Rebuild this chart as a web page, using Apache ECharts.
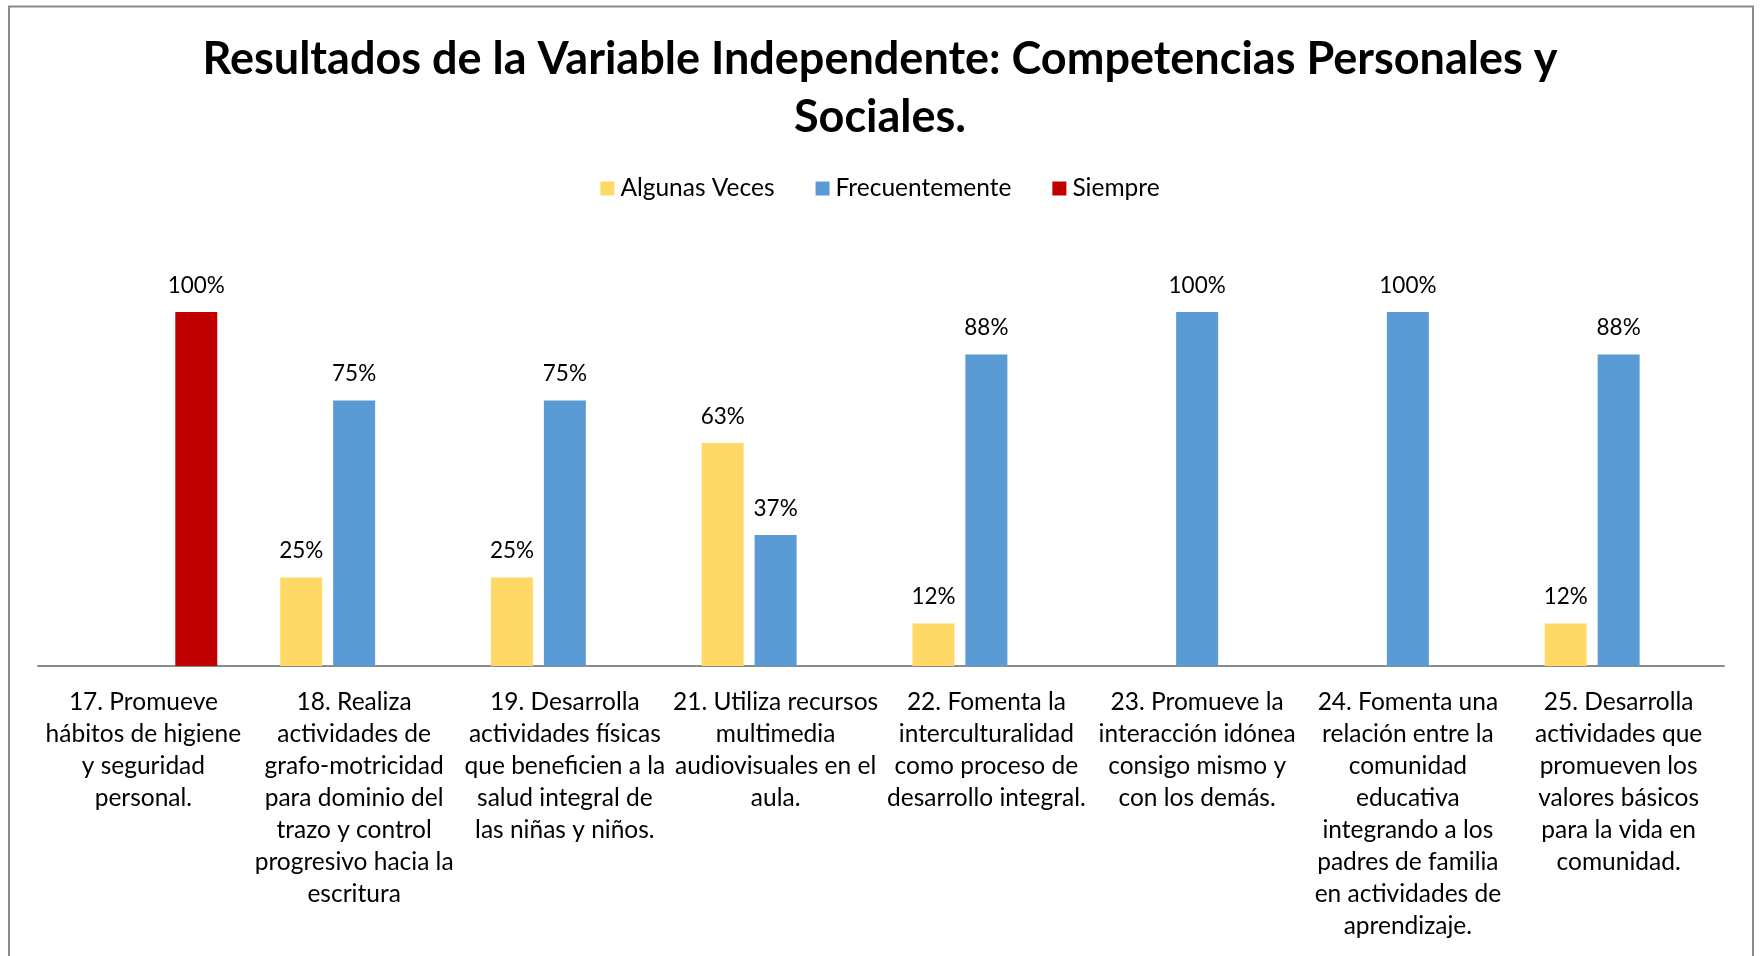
<!DOCTYPE html>
<html>
<head>
<meta charset="utf-8">
<script src="https://cdn.jsdelivr.net/npm/echarts@6/dist/echarts.min.js"></script>
<style>
  html, body { margin: 0; padding: 0; background: #fff; }
  #chart { width: 1760px; height: 956px; }
</style>
</head>
<body>
<div id="chart"></div>
<script>
const categories = [
    '17. Promueve\nhábitos de higiene\ny seguridad\npersonal.',
    '18. Realiza\nactividades de\ngrafo-motricidad\npara dominio del\ntrazo y control\nprogresivo hacia la\nescritura',
    '19. Desarrolla\nactividades físicas\nque beneficien a la\nsalud integral de\nlas niñas y niños.',
    '21. Utiliza recursos\nmultimedia\naudiovisuales en el\naula.',
    '22. Fomenta la\ninterculturalidad\ncomo proceso de\ndesarrollo integral.',
    '23. Promueve la\ninteracción idónea\nconsigo mismo y\ncon los demás.',
    '24. Fomenta una\nrelación entre la\ncomunidad\neducativa\nintegrando a los\npadres de familia\nen actividades de\naprendizaje.',
    '25. Desarrolla\nactividades que\npromueven los\nvalores básicos\npara la vida en\ncomunidad.'
];

// porcentajes, null = sin barra
const algunasVeces   = [null, 25, 25, 63, 12, null, null, 12];
const frecuentemente = [null, 75, 75, 37, 88, 100, 100, 88];
const siempre        = [100, null, null, null, null, null, null, null];

const FONT = 'Lato, "Open Sans", sans-serif';

function barSeries(name, data, color) {
    return {
        name: name,
        type: 'bar',
        data: data,
        barWidth: 42,
        barGap: '26%',
        itemStyle: { color: color },
        label: {
            show: true,
            position: 'top',
            distance: 15,
            formatter: '{c}%',
            fontFamily: FONT,
            fontSize: 22.5,
            color: '#000'
        }
    };
}

const chart = echarts.init(document.getElementById('chart'), null, { renderer: 'canvas' });

chart.setOption({
    animation: false,
    backgroundColor: '#fff',
    title: {
        text: 'Resultados de la Variable Independente: Competencias Personales y\nSociales.',
        left: 'center',
        top: 25,
        textStyle: {
            fontFamily: FONT,
            fontWeight: 'bold',
            fontSize: 45,
            lineHeight: 58,
            color: '#000'
        }
    },
    legend: {
        top: 171,
        left: 'center',
        icon: 'rect',
        itemWidth: 14,
        itemHeight: 14,
        itemGap: 41,
        textStyle: { fontFamily: FONT, fontSize: 24.5, color: '#000', padding: [0, 0, 0, 1] },
        data: ['Algunas Veces', 'Frecuentemente', 'Siempre']
    },
    grid: { left: 38, right: 36, top: 312, bottom: 290 },
    xAxis: {
        type: 'category',
        data: categories,
        axisTick: { show: false },
        axisLine: { lineStyle: { color: '#8c8c8c', width: 2 } },
        axisLabel: {
            interval: 0,
            margin: 20,
            fontFamily: FONT,
            fontSize: 24.5,
            lineHeight: 32,
            color: '#000',
            align: 'center',
            hideOverlap: false
        }
    },
    yAxis: {
        type: 'value',
        min: 0,
        max: 100,
        show: false
    },
    series: [
        barSeries('Algunas Veces', algunasVeces, '#FFD966'),
        barSeries('Frecuentemente', frecuentemente, '#5B9BD5'),
        barSeries('Siempre', siempre, '#C00000')
    ],
    graphic: [{
        type: 'rect',
        silent: true,
        shape: { x: 9, y: 6.5, width: 1744, height: 1000 },
        style: { fill: 'none', stroke: '#8c8c8c', lineWidth: 2 }
    }]
});

window.addEventListener('resize', () => chart.resize());
</script>
</body>
</html>
